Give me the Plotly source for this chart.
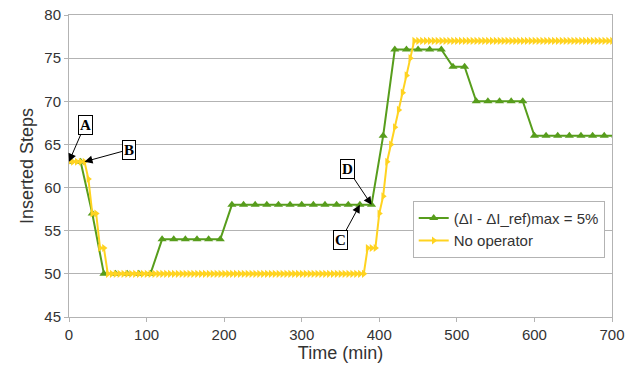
import plotly.graph_objects as go

# Green series: (ΔI - ΔI_ref)max = 5%
t_green = [0, 15, 30, 45, 60, 75, 90, 105, 120, 135, 150, 165, 180, 195,
           210, 225, 240, 255, 270, 285, 300, 315, 330, 345, 360, 375, 390,
           405, 420, 435, 450, 465, 480, 495, 510, 525, 540, 555, 570, 585,
           600, 615, 630, 645, 660, 675, 690, 705]
v_green = [63, 63, 57, 50, 50, 50, 50, 50, 54, 54, 54, 54, 54, 54,
           58, 58, 58, 58, 58, 58, 58, 58, 58, 58, 58, 58, 58,
           66, 76, 76, 76, 76, 76, 74, 74, 70, 70, 70, 70, 70,
           66, 66, 66, 66, 66, 66, 66, 66]

# Yellow series: No operator (5-min steps)
t_yellow = list(range(0, 705, 5))
v_yellow = ([63, 63, 63, 63, 63, 61, 57, 57, 53, 53]          # 0..45
            + [50] * 67                                          # 50..380
            + [53, 53, 53, 57, 59, 63, 65, 67, 69, 71, 73, 75]   # 385..440
            + [77] * 52)                                         # 445..700

x_ticks = [0, 100, 200, 300, 400, 500, 600, 700]
y_ticks = [45, 50, 55, 60, 65, 70, 75, 80]

GREEN = "#579D1C"
YELLOW = "#FFD320"
FONT = "Liberation Sans, Arial, sans-serif"

fig = go.Figure()
fig.add_trace(go.Scatter(
    x=t_green, y=v_green, mode="lines+markers", name="(ΔI - ΔI_ref)max = 5%",
    line=dict(color=GREEN, width=2),
    marker=dict(symbol="triangle-up", size=8, color=GREEN),
))
fig.add_trace(go.Scatter(
    x=t_yellow, y=v_yellow, mode="lines+markers", name="No operator",
    line=dict(color=YELLOW, width=2),
    marker=dict(symbol="triangle-right", size=7, color=YELLOW),
))

ann_font = dict(family="Liberation Serif, Times New Roman, serif", size=15, color="black")
labels = [("A", 0, 63, 16, -37), ("B", 20, 63, 44, -12),
          ("C", 375, 58, -19, 35), ("D", 390, 58, -24, -36)]
for txt, x, y, ax, ay in labels:
    fig.add_annotation(x=x, y=y, ax=ax, ay=ay, text="<b>%s</b>" % txt,
                       showarrow=True, arrowhead=2, arrowsize=1.6, arrowwidth=1,
                       arrowcolor="black", font=ann_font, bordercolor="black",
                       borderwidth=1, borderpad=1, bgcolor="white")

fig.update_layout(
    width=639, height=365,
    margin=dict(l=69, r=27, t=15, b=48),
    paper_bgcolor="white", plot_bgcolor="white",
    font=dict(family=FONT, size=15, color="#333333"),
    showlegend=True,
    legend=dict(x=0.633, y=0.385, xanchor="left", yanchor="top",
                bordercolor="#b3b3b3", borderwidth=1, bgcolor="white",
                font=dict(size=15, color="#333333"), tracegroupgap=0,
                itemwidth=30),
    xaxis=dict(range=[0, 700], tickvals=x_ticks, showgrid=False,
               showline=True, linecolor="#b3b3b3", mirror=True,
               ticks="outside", ticklen=4, tickcolor="#b3b3b3",
               zeroline=False, automargin=False,
               title=dict(text="Time (min)", standoff=4)),
    yaxis=dict(range=[45, 80], tickvals=y_ticks, showgrid=True,
               gridcolor="#b3b3b3", showline=True, linecolor="#b3b3b3",
               mirror=True, ticks="outside", ticklen=4, tickcolor="#b3b3b3",
               zeroline=False, automargin=False,
               title=dict(text="Inserted Steps", standoff=6)),
)

fig.write_html("out.html")
